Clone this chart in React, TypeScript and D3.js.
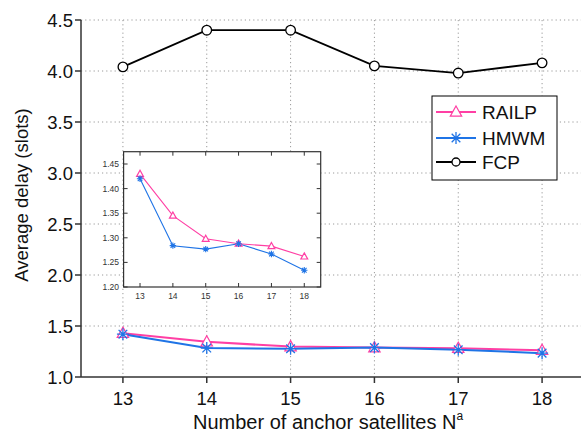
import React from 'react';
import * as d3 from 'd3';

// values
const anchors = [13, 14, 15, 16, 17, 18];
const railp = [1.43, 1.345, 1.298, 1.288, 1.283, 1.262];
const hmwm = [1.42, 1.284, 1.277, 1.288, 1.267, 1.234];
const fcp = [4.04, 4.4, 4.4, 4.05, 3.98, 4.08];
const yTicks = [1.0, 1.5, 2.0, 2.5, 3.0, 3.5, 4.0, 4.5];
const insetYTicks = [1.2, 1.25, 1.3, 1.35, 1.4, 1.45];

const PINK = '#ff3fa4';
const BLUE = '#1f74e6';
const AXIS = '#333';
const FONT = 'Arial, "Liberation Sans", sans-serif';

const Triangle = ({ x, y, s, color }: any) => (
  <path
    d={`M${x},${y - s}L${x + s * 0.95},${y + s * 0.7}L${x - s * 0.95},${y + s * 0.7}Z`}
    fill="white"
    stroke={color}
    strokeWidth={1.2}
  />
);

const Star = ({ x, y, s, color, w = 1.3 }: any) => {
  const d = s * 0.72;
  return (
    <path
      d={`M${x - s},${y}L${x + s},${y}M${x},${y - s}L${x},${y + s}M${x - d},${y - d}L${x + d},${y + d}M${x - d},${y + d}L${x + d},${y - d}`}
      stroke={color}
      strokeWidth={w}
      fill="none"
    />
  );
};

export default function App() {
  const width = 581, height = 435;
  const x = d3.scaleLinear().domain([12.5, 18.5]).range([81, 584]);
  const y = d3.scaleLinear().domain([1.0, 4.5]).range([377, 20]);

  const ix = d3.scaleLinear().domain([12.5, 18.5]).range([123.6, 320.7]);
  const iy = d3.scaleLinear().domain([1.2, 1.475]).range([287, 151.7]);

  const line = (sx: any, sy: any) =>
    d3.line<number>().x((_, i) => sx(anchors[i])).y((d) => sy(d));

  const main = line(x, y);
  const inset = line(ix, iy);

  return (
    <svg
      width={width}
      height={height}
      style={{ position: 'absolute', left: 0, top: 0, background: 'white' }}
      fontFamily={FONT}
    >
      {/* grid */}
      <g stroke="#9a9a9a" strokeWidth={1} strokeDasharray="1.2,3">
        {yTicks.slice(1).map((t) => (
          <line key={'gy' + t} x1={81} x2={width} y1={y(t)} y2={y(t)} />
        ))}
        {anchors.map((t) => (
          <line key={'gx' + t} x1={x(t)} x2={x(t)} y1={20} y2={377} />
        ))}
      </g>

      {/* axes */}
      <g stroke={AXIS} strokeWidth={1.5}>
        <line x1={81} x2={81} y1={20} y2={377} />
        <line x1={81} x2={width} y1={377} y2={377} />
        {yTicks.map((t) => (
          <line key={'ty' + t} x1={75} x2={81} y1={y(t)} y2={y(t)} />
        ))}
        {anchors.map((t) => (
          <line key={'tx' + t} x1={x(t)} x2={x(t)} y1={377} y2={383} />
        ))}
      </g>
      <g fontSize={18.5} fill="#111">
        {yTicks.map((t) => (
          <text key={'ly' + t} x={73} y={y(t)} dy="0.36em" textAnchor="end">
            {d3.format('.1f')(t)}
          </text>
        ))}
        {anchors.map((t) => (
          <text key={'lx' + t} x={x(t)} y={405} textAnchor="middle">
            {t}
          </text>
        ))}
      </g>
      <g fill="#111">
        <text x={193} y={429} fontSize={20}>
          Number of anchor satellites N
          <tspan fontSize={12} dy={-9}>a</tspan>
        </text>
        <text transform="translate(28,195) rotate(-90)" textAnchor="middle" fontSize={18.5}>
          Average delay (slots)
        </text>
      </g>

      {/* main series */}
      <path d={main(fcp) || ''} fill="none" stroke="#000" strokeWidth={1.8} />
      <path d={main(railp) || ''} fill="none" stroke={PINK} strokeWidth={2} />
      <path d={main(hmwm) || ''} fill="none" stroke={BLUE} strokeWidth={2} />
      {fcp.map((v, i) => (
        <circle key={'c' + i} cx={x(anchors[i])} cy={y(v)} r={4.8} fill="white" stroke="#000" strokeWidth={1.3} />
      ))}
      {railp.map((v, i) => (
        <Triangle key={'t' + i} x={x(anchors[i])} y={y(v)} s={6} color={PINK} />
      ))}
      {hmwm.map((v, i) => (
        <Star key={'s' + i} x={x(anchors[i])} y={y(v)} s={6} color={BLUE} />
      ))}

      {/* inset */}
      <rect x={123.6} y={151.7} width={320.7 - 123.6} height={287 - 151.7} fill="white" stroke={AXIS} strokeWidth={1.2} />
      <g stroke={AXIS} strokeWidth={1}>
        {insetYTicks.map((t) => (
          <g key={'iyt' + t}>
            <line x1={123.6} x2={127.6} y1={iy(t)} y2={iy(t)} />
            <line x1={316.7} x2={320.7} y1={iy(t)} y2={iy(t)} />
          </g>
        ))}
        {anchors.map((t) => (
          <g key={'ixt' + t}>
            <line x1={ix(t)} x2={ix(t)} y1={287} y2={283} />
            <line x1={ix(t)} x2={ix(t)} y1={151.7} y2={155.7} />
          </g>
        ))}
      </g>
      <g fontSize={8.5} fill="#333">
        {insetYTicks.map((t) => (
          <text key={'iyl' + t} x={119} y={iy(t)} dy="0.35em" textAnchor="end">
            {d3.format('.2f')(t)}
          </text>
        ))}
        {anchors.map((t) => (
          <text key={'ixl' + t} x={ix(t)} y={299} textAnchor="middle">
            {t}
          </text>
        ))}
      </g>
      <path d={inset(railp) || ''} fill="none" stroke={PINK} strokeWidth={1.1} />
      <path d={inset(hmwm) || ''} fill="none" stroke={BLUE} strokeWidth={1.1} />
      {railp.map((v, i) => (
        <Triangle key={'it' + i} x={ix(anchors[i])} y={iy(v)} s={3.6} color={PINK} />
      ))}
      {hmwm.map((v, i) => (
        <Star key={'is' + i} x={ix(anchors[i])} y={iy(v)} s={3.2} color={BLUE} w={1.1} />
      ))}

      {/* legend */}
      <rect x={432} y={96} width={125} height={84} fill="white" stroke="#000" strokeWidth={1} />
      {[
        { name: 'RAILP', color: PINK, ly: 112 },
        { name: 'HMWM', color: BLUE, ly: 138 },
        { name: 'FCP', color: '#000', ly: 162 },
      ].map((e) => (
        <g key={e.name}>
          <line x1={436} x2={476} y1={e.ly} y2={e.ly} stroke={e.color} strokeWidth={2} />
          {e.name === 'RAILP' && <Triangle x={456} y={e.ly} s={6} color={PINK} />}
          {e.name === 'HMWM' && <Star x={456} y={e.ly} s={6} color={BLUE} />}
          {e.name === 'FCP' && <circle cx={456} cy={e.ly} r={4} fill="white" stroke="#000" strokeWidth={1.3} />}
          <text x={482} y={e.ly} dy="0.36em" fontSize={19} fill="#111">
            {e.name}
          </text>
        </g>
      ))}
    </svg>
  );
}
